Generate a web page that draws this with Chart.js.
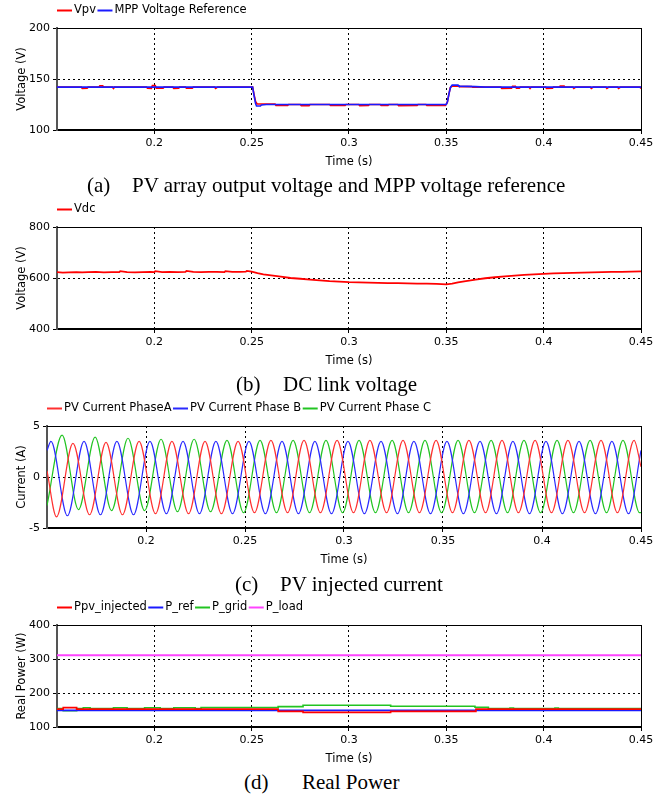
<!DOCTYPE html>
<html>
<head>
<meta charset="utf-8">
<script src="https://cdn.jsdelivr.net/npm/chart.js@4.4.1/dist/chart.umd.min.js"></script>
<style>
  body { margin: 0; background: #fff; }
  #page { position: relative; width: 672px; height: 795px; overflow: hidden; }
  .panel { position: absolute; left: 0; width: 672px; }
  .cap { position: absolute; font-family: 'Liberation Serif', 'Times New Roman', serif; font-size: 21px; line-height: 24px; color: #000; white-space: nowrap; }
</style>
</head>
<body>
<div id="page">
  <div class="panel" style="top:0;height:170px"><canvas id="chartA"></canvas></div>
  <div class="panel" style="top:190px;height:179px"><canvas id="chartB"></canvas></div>
  <div class="panel" style="top:390px;height:178px"><canvas id="chartC"></canvas></div>
  <div class="panel" style="top:590px;height:177px"><canvas id="chartD"></canvas></div>

  <span class="cap" style="left:87px;top:173px">(a)</span>
  <span class="cap" style="left:132px;top:173px">PV array output voltage and MPP voltage reference</span>
  <span class="cap" style="left:236px;top:372px">(b)</span>
  <span class="cap" style="left:283px;top:372px">DC link voltage</span>
  <span class="cap" style="left:235px;top:572px">(c)</span>
  <span class="cap" style="left:280px;top:572px">PV injected current</span>
  <span class="cap" style="left:244px;top:770px">(d)</span>
  <span class="cap" style="left:302px;top:770px">Real Power</span>
</div>

<script>
// x axis (time) shared by all four plots
const timeTicks = [0.2, 0.25, 0.3, 0.35, 0.4, 0.45];
const timeTickLabels = ['0.2', '0.25', '0.3', '0.35', '0.4', '0.45'];

// (a) PV voltage and MPP reference  [time, volts]
const vpvTicks = [100, 150, 200];
const mppRef = [[0.15,142],[0.2505,142],[0.2512,134],[0.252,126],[0.2525,123.5],[0.2545,123.5],[0.255,124.5],
  [0.2575,125],[0.35,125],[0.3506,128],[0.3514,136],[0.3522,142],[0.353,144],[0.356,144],[0.3565,143],
  [0.365,142.5],[0.37,142],[0.45,142]];
const vpv = [[0.15,142],[0.1625,142],[0.163,140.8],[0.1655,141],[0.166,142],[0.1715,142],[0.172,143.3],[0.1735,143.3],
  [0.174,142],[0.1785,142],[0.179,140.8],[0.1795,142],[0.196,142],[0.1965,141],[0.1985,140.8],[0.199,143.5],
  [0.2005,143.5],[0.201,141],[0.2045,141],[0.205,142],[0.2095,142],[0.21,140.8],[0.2125,141],[0.213,142],
  [0.216,142],[0.2165,141],[0.2195,141],[0.22,142],[0.231,142],[0.2315,140.8],[0.2325,142],[0.2505,142],
  [0.2512,135],[0.252,128],[0.2528,125.5],[0.262,125.5],[0.2625,124],[0.2685,124],[0.269,125],[0.275,125],
  [0.2755,123.8],[0.2795,123.8],[0.28,125],[0.29,125],[0.2905,124],[0.298,124],[0.2985,125],[0.305,125],
  [0.3055,123.8],[0.31,124],[0.3105,125],[0.316,125],[0.3165,124],[0.32,124],[0.3205,125],[0.325,125],
  [0.3255,123.8],[0.335,124],[0.3355,125],[0.3395,125],[0.34,124],[0.3495,124],[0.3505,127],[0.3513,135],
  [0.352,141.5],[0.353,143],[0.356,143],[0.357,142.5],[0.363,142.5],[0.3635,142],[0.378,142],[0.3785,140.8],
  [0.3835,141],[0.384,142.8],[0.3855,142.8],[0.386,141],[0.3875,141],[0.388,142],[0.3925,142],[0.393,140.8],
  [0.3935,142],[0.401,142],[0.4015,140.8],[0.4045,141],[0.405,142],[0.408,142],[0.4085,143],[0.4105,143],
  [0.411,142],[0.415,142],[0.4155,140.8],[0.4165,142],[0.424,142],[0.4245,140.8],[0.4255,142],[0.432,142],
  [0.4325,140.8],[0.4335,142],[0.438,142],[0.4385,140.8],[0.4395,142],[0.4495,142],[0.45,140.8]];

// (b) DC link voltage
const vdcTicks = [400, 600, 800];
const vdc = [[0.15,623],[0.153,621],[0.156,622],[0.16,623],[0.163,622],[0.166,623],[0.17,624],[0.174,622],
  [0.178,623],[0.182,623],[0.1825,627],[0.186,623],[0.19,622],[0.194,623],[0.198,624],[0.2,623],[0.2005,627],
  [0.204,623],[0.208,624],[0.212,623],[0.216,624],[0.2165,628],[0.22,624],[0.224,623],[0.228,624],[0.232,624],
  [0.236,623],[0.2365,627],[0.24,624],[0.244,624],[0.247,625],[0.2475,628],[0.25,625],[0.253,619],[0.256,614],
  [0.26,610],[0.265,605],[0.27,600],[0.275,597],[0.28,594],[0.285,591],[0.29,588],[0.295,586],[0.3,584],
  [0.305,583],[0.31,582],[0.315,581],[0.32,580],[0.325,580],[0.33,579],[0.335,578],[0.34,578],[0.345,577],
  [0.35,575],[0.353,578],[0.356,583],[0.36,588],[0.365,594],[0.37,599],[0.375,603],[0.38,606],[0.385,609],
  [0.39,612],[0.395,614],[0.4,616],[0.405,618],[0.41,619],[0.415,620],[0.42,621],[0.425,622],[0.43,623],
  [0.435,624],[0.44,624],[0.445,625],[0.45,626]];

// (c) injected phase currents: peaks / troughs
const currentTicks = [-5, 0, 5];
const phaseA = [[0.15,0.6],[0.1548,-3.9],[0.1631,3.3],[0.1715,-3.7],[0.1798,3.4],[0.1881,-3.7],[0.1965,3.5],
  [0.2048,-3.6],[0.2131,3.5],[0.2215,-3.6],[0.2298,3.5],[0.2381,-3.6],[0.2465,3.5],[0.2548,-3.5],[0.2631,3.6],
  [0.2715,-3.5],[0.2798,3.6],[0.2881,-3.5],[0.2965,3.6],[0.3048,-3.5],[0.3131,3.6],[0.3215,-3.5],[0.3298,3.6],
  [0.3381,-3.5],[0.3465,3.6],[0.3548,-3.5],[0.3631,3.6],[0.3715,-3.5],[0.3798,3.6],[0.3881,-3.5],[0.3965,3.6],
  [0.4048,-3.5],[0.4131,3.6],[0.4215,-3.5],[0.4298,3.6],[0.4381,-3.5],[0.4465,3.6],[0.45,1.0]];
const phaseB = [[0.15,2.6],[0.152,3.5],[0.1603,-3.8],[0.1687,3.5],[0.177,-3.7],[0.1853,3.5],[0.1937,-3.7],
  [0.202,3.5],[0.2103,-3.6],[0.2187,3.5],[0.227,-3.6],[0.2353,3.5],[0.2437,-3.6],[0.252,3.5],[0.2603,-3.6],
  [0.2687,3.5],[0.277,-3.6],[0.2853,3.5],[0.2937,-3.6],[0.302,3.5],[0.3103,-3.6],[0.3187,3.5],[0.327,-3.6],
  [0.3353,3.5],[0.3437,-3.6],[0.352,3.5],[0.3603,-3.6],[0.3687,3.5],[0.377,-3.6],[0.3853,3.5],[0.3937,-3.6],
  [0.402,3.5],[0.4103,-3.6],[0.4187,3.5],[0.427,-3.6],[0.4353,3.5],[0.4437,-3.6],[0.45,2.6]];
const phaseC = [[0.15,-2.8],[0.1576,4.1],[0.1659,-3.2],[0.1743,3.9],[0.1826,-3.3],[0.1909,3.8],[0.1993,-3.3],
  [0.2076,3.7],[0.2159,-3.4],[0.2243,3.7],[0.2326,-3.4],[0.2409,3.6],[0.2493,-3.5],[0.2576,3.6],[0.2659,-3.5],
  [0.2743,3.6],[0.2826,-3.5],[0.2909,3.6],[0.2993,-3.5],[0.3076,3.6],[0.3159,-3.5],[0.3243,3.6],[0.3326,-3.5],
  [0.3409,3.6],[0.3493,-3.5],[0.3576,3.6],[0.3659,-3.5],[0.3743,3.6],[0.3826,-3.5],[0.3909,3.6],[0.3993,-3.5],
  [0.4076,3.6],[0.4159,-3.5],[0.4243,3.6],[0.4326,-3.5],[0.4409,3.6],[0.4493,-3.5],[0.45,-3.5]];

// (d) real power, step changes
const powerTicks = [100, 200, 300, 400];
const pvInjected = [[0.15,152.5],[0.1532,157],[0.1601,152.5],[0.2636,146],[0.2764,143],[0.3214,146],[0.3652,152.5],[0.45,152.5]];
const pRef = [[0.15,149],[0.45,149]];
const pGrid = [[0.15,154],[0.1532,148],[0.1601,154],[0.1635,156.5],[0.167,154],[0.179,156.5],[0.186,154],
  [0.195,156.5],[0.203,154],[0.21,156.5],[0.221,154],[0.224,157.5],[0.2636,160],[0.2764,164],[0.3214,161],
  [0.3647,158],[0.3716,154],[0.3827,156],[0.3845,154],[0.4058,156],[0.4075,154],[0.45,154]];
const pLoad = [[0.15,311],[0.45,311]];

Chart.defaults.font.family = 'DejaVu Sans';
Chart.defaults.color = '#000';

const toPts = arr => arr.map(p => ({ x: p[0], y: p[1] }));

// top/right frame edges + the small legend above the plot
const framePlugin = {
  id: 'frameLegend',
  afterDraw(chart) {
    const { ctx, chartArea: a } = chart;
    ctx.save();
    ctx.strokeStyle = '#000';
    ctx.lineWidth = 1;
    ctx.beginPath();
    ctx.moveTo(a.left, a.top + 0.5);
    ctx.lineTo(a.right + 0.5, a.top + 0.5);
    ctx.lineTo(a.right + 0.5, a.bottom);
    ctx.stroke();

    let x = a.left;
    const y = a.top - 17.5;
    ctx.font = '11.5px "DejaVu Sans"';
    ctx.textBaseline = 'middle';
    chart.data.datasets.forEach(ds => {
      ctx.strokeStyle = ds.borderColor;
      ctx.lineWidth = 2;
      ctx.beginPath();
      ctx.moveTo(x, y);
      ctx.lineTo(x + 15, y);
      ctx.stroke();
      x += 17;
      ctx.fillStyle = '#000';
      ctx.fillText(ds.label, x, y);
      x += ctx.measureText(ds.label).width + 1.5;
    });
    ctx.restore();
  }
};

function makeChart(id, datasets, yTicks, yTitle, plotLeft, padTop) {
  return new Chart(document.getElementById(id), {
    type: 'line',
    data: { datasets: datasets },
    options: {
      responsive: true,
      maintainAspectRatio: false,
      animation: false,
      layout: { padding: { top: padTop, right: 31, left: 0, bottom: 0 } },
      plugins: { legend: { display: false }, tooltip: { enabled: false } },
      elements: { point: { radius: 0 } },
      scales: {
        x: {
          type: 'linear',
          min: 0.15,
          max: 0.45,
          afterFit: s => { s.height = 40; },
          afterBuildTicks: s => { s.ticks = timeTicks.map(v => ({ value: v })); },
          ticks: { callback: (v, i) => timeTickLabels[i], font: { size: 11 }, padding: 3, maxRotation: 0, autoSkip: false },
          grid: { color: '#000', lineWidth: 1, tickLength: 4, tickColor: '#000' },
          border: { color: '#000', width: 2, dash: [2, 3] },
          title: { display: true, text: 'Time (s)', font: { size: 11.5 }, padding: { top: 0, bottom: 1.5 } }
        },
        y: {
          min: yTicks[0],
          max: yTicks[yTicks.length - 1],
          afterFit: s => { s.width = plotLeft; },
          afterBuildTicks: s => { s.ticks = yTicks.map(v => ({ value: v })); },
          ticks: { callback: v => String(v), font: { size: 11 }, padding: 3 },
          grid: { color: '#000', lineWidth: 1, tickLength: 4, tickColor: '#000' },
          border: { color: '#555', width: 2, dash: [2, 3] },
          title: { display: true, text: yTitle, font: { size: 11.5 }, padding: { top: 15, bottom: 0 } }
        }
      }
    },
    plugins: [framePlugin]
  });
}

makeChart('chartA', [
  { label: 'Vpv', data: toPts(vpv), borderColor: '#ff0000', borderWidth: 1.6, order: 1 },
  { label: 'MPP Voltage Reference', data: toPts(mppRef), borderColor: '#1a1aff', borderWidth: 1.6, order: 0 }
], vpvTicks, 'Voltage (V)', 57, 28);

makeChart('chartB', [
  { label: 'Vdc', data: toPts(vdc), borderColor: '#ff0000', borderWidth: 1.8 }
], vdcTicks, 'Voltage (V)', 57, 37);

makeChart('chartC', [
  { label: 'PV Current PhaseA', data: toPts(phaseA), borderColor: '#ff3030', borderWidth: 1.2, cubicInterpolationMode: 'monotone' },
  { label: 'PV Current Phase B', data: toPts(phaseB), borderColor: '#2a2aff', borderWidth: 1.2, cubicInterpolationMode: 'monotone' },
  { label: 'PV Current Phase C', data: toPts(phaseC), borderColor: '#22c422', borderWidth: 1.2, cubicInterpolationMode: 'monotone' }
], currentTicks, 'Current (A)', 47, 36);

makeChart('chartD', [
  { label: 'Ppv_injected', data: toPts(pvInjected), borderColor: '#ff0000', borderWidth: 1.6, stepped: true },
  { label: 'P_ref', data: toPts(pRef), borderColor: '#1a1aff', borderWidth: 1.6 },
  { label: 'P_grid', data: toPts(pGrid), borderColor: '#22c422', borderWidth: 1.6, stepped: true },
  { label: 'P_load', data: toPts(pLoad), borderColor: '#ff44ff', borderWidth: 1.8 }
], powerTicks, 'Real Power (W)', 57, 35);
</script>
</body>
</html>
